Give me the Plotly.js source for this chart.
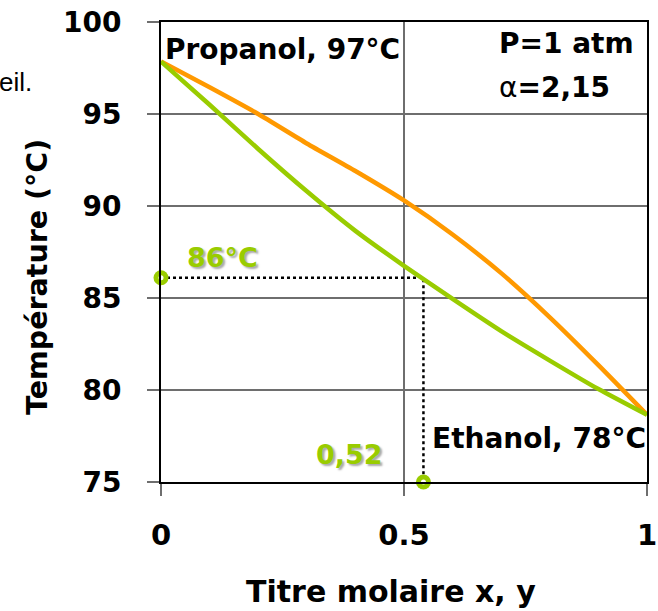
<!DOCTYPE html>
<html>
<head>
<meta charset="utf-8">
<script src="https://cdn.plot.ly/plotly-3.0.1.min.js"></script>
<style>html,body{margin:0;padding:0;background:#fff;}#chart{width:658px;height:611px;}</style>
</head>
<body>
<div id="chart"></div>
<script>
// Molar fraction of ethanol
const xFrac = [0, 0.1, 0.2, 0.3, 0.4, 0.5, 0.6, 0.7, 0.8, 0.9, 1.0];
// Dew curve (vapour, orange) temperatures °C
const tVapour = [97.85, 96.45, 95.0, 93.4, 91.9, 90.3, 88.45, 86.35, 83.95, 81.35, 78.65];
// Bubble curve (liquid, green) temperatures °C
const tLiquid = [97.85, 95.5, 93.1, 90.8, 88.65, 86.75, 84.95, 83.2, 81.6, 80.05, 78.65];
// Reading construction
const readX = [0, 0.54, 0.54];
const readT = [86.1, 86.1, 75];
const markX = [0, 0.54];
const markT = [86.1, 75];
const yTicks = [75, 80, 85, 90, 95, 100];
const xTicks = [0, 0.5, 1];
const xTickText = ['0', '0.5', '1'];

const F = 'DejaVu Sans';
const orange = '#FF9900';
const green = '#99CC00';

const traces = [
  {x: readX, y: readT, mode: 'lines', line: {color: '#000', width: 2.5, dash: 'dot'}, cliponaxis: false, hoverinfo: 'skip'},
  {x: xFrac, y: tVapour, mode: 'lines', line: {color: orange, width: 4.5, shape: 'spline', smoothing: 0.6}},
  {x: xFrac, y: tLiquid, mode: 'lines', line: {color: green, width: 4.5, shape: 'spline', smoothing: 0.6}},
  {x: markX, y: markT, mode: 'markers', marker: {color: green, size: 15, line: {width: 0}}, cliponaxis: false},
  {x: markX, y: markT, mode: 'markers', marker: {color: '#fff', size: 5, line: {width: 0}}, cliponaxis: false}
];

const bold = {family: F, size: 28, color: '#000', weight: 'bold'};
const greenFont = {family: F, size: 27, color: green, weight: 'bold', shadow: '2px 2px 2px #aaa'};

const layout = {
  width: 658, height: 611,
  margin: {l: 161, r: 11, t: 22, b: 129, pad: 0},
  paper_bgcolor: '#fff', plot_bgcolor: '#fff',
  showlegend: false,
  xaxis: {
    range: [0, 1], tickvals: xTicks, ticktext: xTickText,
    showgrid: true, gridcolor: '#6e6e6e', gridwidth: 1.5, zeroline: false,
    showline: true, linecolor: '#000', linewidth: 2, mirror: true,
    ticks: 'outside', ticklen: 12, tickcolor: '#6e6e6e', tickwidth: 1.5,
    ticklabelstandoff: 14,
    tickfont: {family: F, size: 29, color: '#000', weight: 'bold'}
  },
  yaxis: {
    range: [75, 100], tickvals: yTicks,
    showgrid: true, gridcolor: '#6e6e6e', gridwidth: 1.5, zeroline: false,
    showline: true, linecolor: '#000', linewidth: 2, mirror: true,
    ticks: 'outside', ticklen: 12, tickcolor: '#6e6e6e', tickwidth: 1.5,
    ticklabelstandoff: 20,
    tickfont: {family: F, size: 28, color: '#000', weight: 'bold'}
  },
  annotations: [
    {xref: 'paper', yref: 'paper', x: 0.004, y: 0.940, xanchor: 'left', yanchor: 'middle', text: 'Propanol, 97°C', showarrow: false, font: bold},
    {xref: 'paper', yref: 'paper', x: 0.691, y: 0.954, xanchor: 'left', yanchor: 'middle', text: 'P=1 atm', showarrow: false, font: bold},
    {xref: 'paper', yref: 'paper', x: 0.691, y: 0.857, xanchor: 'left', yanchor: 'middle', text: '<span style="font-weight:normal">α</span>=2,15', showarrow: false, font: bold},
    {xref: 'paper', yref: 'paper', x: 0.553, y: 0.0935, xanchor: 'left', yanchor: 'middle', text: 'Ethanol, 78°C', showarrow: false, font: bold},
    {xref: 'paper', yref: 'paper', x: 0.049, y: 0.489, xanchor: 'left', yanchor: 'middle', text: '86°C', showarrow: false, font: greenFont},
    {xref: 'paper', yref: 'paper', x: 0.461, y: 0.0587, xanchor: 'right', yanchor: 'middle', text: '0,52', showarrow: false, font: greenFont},
    {xref: 'paper', yref: 'paper', x: 0.474, y: -0.239, xanchor: 'center', yanchor: 'middle', text: 'Titre molaire x, y', showarrow: false, font: {family: F, size: 30, color: '#000', weight: 'bold'}},
    {xref: 'paper', yref: 'paper', x: -0.253, y: 0.446, xanchor: 'center', yanchor: 'middle', textangle: -90, text: 'Température (°C)', showarrow: false, font: {family: F, size: 28.5, color: '#000', weight: 'bold'}},
    {xref: 'paper', yref: 'paper', x: -0.262, y: 0.870, xanchor: 'right', yanchor: 'middle', text: 'eil.', showarrow: false, font: {family: 'Liberation Sans', size: 26, color: '#000'}}
  ]
};

Plotly.newPlot('chart', traces, layout, {displayModeBar: false, staticPlot: true});
</script>
</body>
</html>
